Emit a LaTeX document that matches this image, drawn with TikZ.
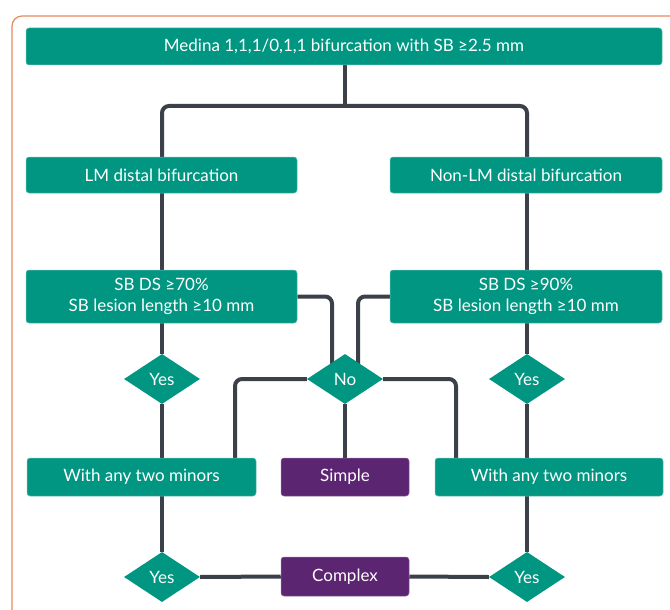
\documentclass[tikz,border=0pt]{standalone}
\usepackage{fontspec}
\setmainfont{Lato}
\usetikzlibrary{shapes.geometric,backgrounds}
\definecolor{teal1}{HTML}{009681}
\definecolor{purp}{HTML}{5C2572}
\definecolor{lgray}{HTML}{3B4049}
\definecolor{orng}{HTML}{E58A5E}
\tikzset{
  box/.style={rectangle, rounded corners=3pt, fill=teal1, draw=teal1!60!white, line width=0.5pt, text=white, font=\fontsize{17}{21}\selectfont, align=center, inner sep=0pt},
  pbox/.style={box, fill=purp, draw=purp!70!white},
  dia/.style={diamond, fill=teal1, text=white, font=\fontsize{17}{20}\selectfont, minimum width=76pt, minimum height=50pt, inner sep=0pt},
  conn/.style={draw=lgray, line width=4pt, rounded corners=7pt},
}
\begin{document}
\begin{tikzpicture}[x=1pt,y=-1pt]
\useasboundingbox (0,0) rectangle (670,610);
\draw[orng, line width=1.2pt, rounded corners=10pt] (12,650) -- (12,16) -- (720,16);

\node[box, minimum width=636pt, minimum height=37pt] (top) at (344,46.5) {Medina 1,1,1/0,1,1 bifurcation with SB ≥2.5 mm};
\node[box, minimum width=271pt, minimum height=36pt] (lm) at (161.5,175) {LM distal bifurcation};
\node[box, minimum width=272pt, minimum height=36pt] (nonlm) at (526,175) {Non-LM distal bifurcation};
\node[box, minimum width=271pt, minimum height=53pt] (sbl) at (161.5,296.5) {SB DS ≥70\%\\SB lesion length ≥10 mm};
\node[box, minimum width=272pt, minimum height=53pt] (sbr) at (526,296.5) {SB DS ≥90\%\\SB lesion length ≥10 mm};
\node[dia] (yesl) at (162,379) {Yes};
\node[dia] (no) at (345,379) {No};
\node[dia] (yesr) at (527,379) {Yes};
\node[box, minimum width=229pt, minimum height=38pt] (withl) at (141.5,477) {With any two minors};
\node[pbox, minimum width=128pt, minimum height=38pt] (simple) at (345,477) {Simple};
\node[box, minimum width=228pt, minimum height=38pt] (withr) at (549,477) {With any two minors};
\node[dia] (yesl2) at (162,577) {Yes};
\node[pbox, minimum width=128pt, minimum height=39pt] (complex) at (345,576.5) {Complex};
\node[dia] (yesr2) at (527,577) {Yes};

\coordinate (split) at (345,106);
\coordinate (nlin) at (332,379);
\coordinate (nrin) at (358,379);
\coordinate (wlin) at (235,470);
\coordinate (wrin) at (456,470);

\begin{scope}[on background layer]
\draw[conn] (top.south -| split) -- (split);
\draw[conn] (lm.north -| yesl) |- (split) -| (nonlm.north -| yesr);
\draw[conn] (lm.south -| yesl) -- (sbl.north -| yesl);
\draw[conn] (nonlm.south -| yesr) -- (sbr.north -| yesr);
\draw[conn] (sbl.south -| yesl) -- (yesl) -- (withl.north -| yesl);
\draw[conn] (sbr.south -| yesr) -- (yesr) -- (withr.north -| yesr);
\draw[conn] (withl.south -| yesl2) -- (yesl2);
\draw[conn] (withr.south -| yesr2) -- (yesr2);
\draw[conn] (sbl.east) -| (nlin);
\draw[conn] (sbr.west) -| (nrin);
\draw[conn] (no.west) -| (wlin);
\draw[conn] (no.east) -| (wrin);
\draw[conn] (no.south) -- (simple.north);
\draw[conn] (yesl2.east) -- (complex.west);
\draw[conn] (complex.east) -- (yesr2.west);
\end{scope}
\end{tikzpicture}
\end{document}
